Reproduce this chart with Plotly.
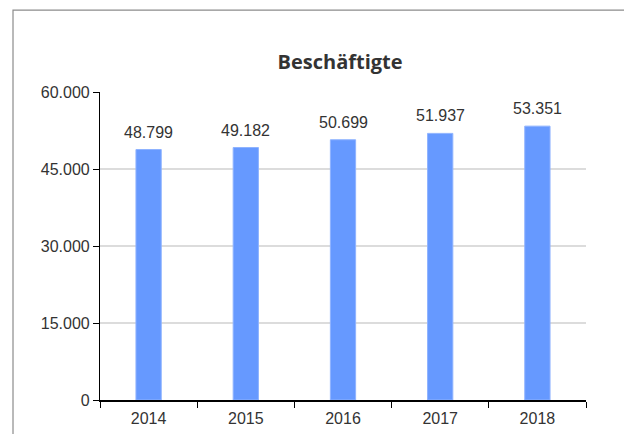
import plotly.graph_objects as go

# data
years = ["2014", "2015", "2016", "2017", "2018"]
beschaeftigte = [48799, 49182, 50699, 51937, 53351]
y_ticks = [0, 15000, 30000, 45000, 60000]

fig = go.Figure(go.Bar(
    x=years,
    y=beschaeftigte,
    width=0.26,
    marker=dict(color="#6699ff", line=dict(color="#8fb3ff", width=1)),
    hoverinfo="x+y",
))

# value labels above the bars (category index on the x axis)
for i, v in enumerate(beschaeftigte):
    fig.add_annotation(
        x=i, y=v, xref="x", yref="y",
        text=f"{v:,}".replace(",", "."),
        showarrow=False, yanchor="bottom", yshift=7,
        font=dict(family="Liberation Sans, Arial", size=16, color="#333333"),
    )

# outer frame (cut off at right and bottom like the original)
fig.add_shape(type="rect", xref="paper", yref="paper",
              x0=-0.179, x1=1.3, y0=-0.3, y1=1.266,
              line=dict(color="#8c8c8c", width=1.2), layer="below")

fig.update_layout(
    width=632, height=434,
    margin=dict(l=92, r=54, t=84, b=42),
    paper_bgcolor="white", plot_bgcolor="white",
    separators=",.",
    showlegend=False,
    title=dict(text="<b>Beschäftigte</b>", x=0.494, xref="paper",
               y=1 - 54 / 434, yanchor="middle",
               font=dict(family="Open Sans, Lato", size=20, color="#333333")),
    font=dict(family="Liberation Sans, Arial", size=16, color="#333333"),
)

fig.update_xaxes(
    type="category", tickson="boundaries", range=[-0.5, 4.5],
    ticks="outside", ticklen=6, tickcolor="#000000",
    showline=True, linecolor="#000000", linewidth=1.5,
    showgrid=False, tickangle=0, ticklabelstandoff=3,
    tickfont=dict(size=16, color="#333333"),
)
fig.update_yaxes(
    range=[0, 60000], tickvals=y_ticks, tickformat=",d",
    ticks="outside", ticklen=6, tickcolor="#000000",
    showline=True, linecolor="#000000", linewidth=1.2,
    gridcolor="#dcdcdc", gridwidth=2, zeroline=False,
    tickfont=dict(size=16, color="#333333"),
)

fig.write_html("out.html")
